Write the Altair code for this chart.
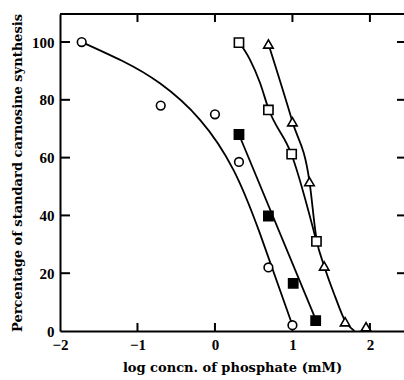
import altair as alt
import pandas as pd

# ---- data ----
circ_x = [-1.72, -0.70, 0.00, 0.31, 0.69, 1.00]
circ_y = [100.0, 78.0, 75.0, 58.5, 22.0, 2.0]

fsq_x = [0.31, 0.69, 1.01, 1.30]
fsq_y = [68.0, 39.8, 16.5, 3.6]

osq_x = [0.31, 0.69, 0.99, 1.31]
osq_y = [99.8, 76.5, 61.2, 31.0]

tri_x = [0.69, 1.00, 1.22, 1.41, 1.68, 1.95]
tri_y = [99.3, 72.4, 51.7, 22.5, 3.2, 1.5]

# fitted curves as drawn in the figure
circ_fit_x = [-1.72, -1.20, -0.71, -0.19, 0.24, 0.58, 1.00]
circ_fit_y = [100.0, 93.5, 85.7, 73.0, 55.7, 33.8, 2.0]

fsq_fit_x = [0.31, 1.30]
fsq_fit_y = [68.0, 4.0]

osq_fit_x = [0.31, 0.45, 0.58, 0.69, 0.99, 1.31]
osq_fit_y = [100.0, 94.0, 86.0, 77.0, 61.0, 31.0]

tri_fit_x = [0.69, 1.00, 1.22, 1.31, 1.41, 1.55, 1.68, 1.80]
tri_fit_y = [99.3, 72.4, 51.7, 32.0, 22.5, 12.0, 3.5, 0.0]

x_ticks = [-2, -1, 0, 1, 2]
y_ticks = [0, 20, 40, 60, 80, 100]

# ---- layout ----
W, H = 344, 317
X_DOM = [-2, 2.44]
Y_DOM = [0, 109.7]
TITLE_FONT = "DejaVu Serif"
LABEL_FONT = "Liberation Serif"

xs = alt.Scale(domain=X_DOM, nice=False, zero=False)
ys = alt.Scale(domain=Y_DOM, nice=False, zero=False)

x_axis = alt.Axis(values=x_ticks, format="d", ticks=False, grid=False, domain=True,
                  domainColor="black", domainWidth=2, labelFont=LABEL_FONT,
                  labelFontSize=15, labelFontWeight="bold", labelColor="black",
                  labelPadding=6, title="log concn. of phosphate (mM)",
                  titleFont=TITLE_FONT, titleFontSize=13, titleFontWeight="bold",
                  titleColor="black", titlePadding=9, labelFlush=False)
y_axis = alt.Axis(values=y_ticks, format="d", ticks=False, grid=False, domain=True,
                  domainColor="black", domainWidth=2, labelFont=LABEL_FONT,
                  labelFontSize=15, labelFontWeight="bold", labelColor="black",
                  labelPadding=6, title="Percentage of standard carnosine synthesis",
                  titleFont=TITLE_FONT, titleFontSize=13, titleFontWeight="bold",
                  titleColor="black", titlePadding=7, labelFlush=False)


def line(xv, yv, interp="monotone"):
    df = pd.DataFrame({"x": xv, "y": yv})
    return alt.Chart(df).mark_line(color="black", strokeWidth=1.8,
                                   interpolate=interp).encode(
        x=alt.X("x:Q", scale=xs, axis=x_axis),
        y=alt.Y("y:Q", scale=ys, axis=y_axis))


def pts(xv, yv, shape, filled, size):
    df = pd.DataFrame({"x": xv, "y": yv})
    return alt.Chart(df).mark_point(shape=shape, filled=True,
                                    fill="black" if filled else "white",
                                    stroke="black", strokeWidth=1.6,
                                    size=size, opacity=1).encode(
        x=alt.X("x:Q", scale=xs), y=alt.Y("y:Q", scale=ys))


dx = pd.DataFrame({"t": x_ticks[1:]})
dy = pd.DataFrame({"t": y_ticks[1:]})

bottom_ticks = alt.Chart(dx).mark_rule(color="black", strokeWidth=2).encode(
    x=alt.X("t:Q", scale=xs), y=alt.value(H - 8), y2=alt.value(H))
top_ticks = alt.Chart(dx).mark_rule(color="black", strokeWidth=2).encode(
    x=alt.X("t:Q", scale=xs), y=alt.value(0), y2=alt.value(8))
left_ticks = alt.Chart(dy).mark_rule(color="black", strokeWidth=2).encode(
    y=alt.Y("t:Q", scale=ys), x=alt.value(0), x2=alt.value(10))
right_ticks = alt.Chart(dy).mark_rule(color="black", strokeWidth=2).encode(
    y=alt.Y("t:Q", scale=ys), x=alt.value(W - 7), x2=alt.value(W))
top_frame = alt.Chart(pd.DataFrame({"a": [0]})).mark_rule(
    color="black", strokeWidth=2).encode(
    x=alt.value(0), x2=alt.value(W), y=alt.value(0))

chart = alt.layer(
    line(circ_fit_x, circ_fit_y, "natural"),
    line(fsq_fit_x, fsq_fit_y, "linear"),
    line(osq_fit_x, osq_fit_y),
    line(tri_fit_x, tri_fit_y),
    bottom_ticks, top_ticks, left_ticks, right_ticks, top_frame,
    pts(circ_x, circ_y, "circle", False, 75),
    pts(fsq_x, fsq_y, "square", True, 85),
    pts(osq_x, osq_y, "square", False, 85),
    pts(tri_x, tri_y, "triangle-up", False, 90),
).properties(
    width=W, height=H,
    autosize=alt.AutoSizeParams(type="none"),
    padding={"left": 60, "top": 14, "right": 0, "bottom": 49},
    background="white",
).configure_view(stroke=None)

chart.save("out.html", embed_options={"renderer": "svg", "actions": False})
